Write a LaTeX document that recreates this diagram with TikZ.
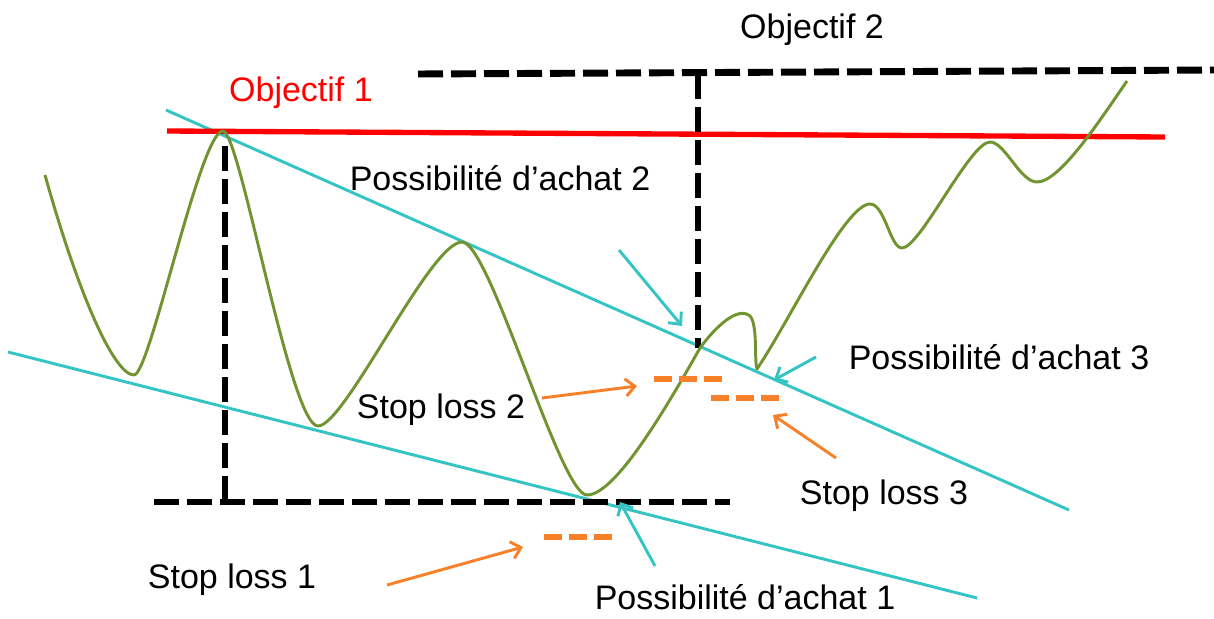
\documentclass[tikz,border=0pt]{standalone}
\usepackage{fontspec}
\setmainfont{Liberation Sans}
\usetikzlibrary{arrows.meta}
\definecolor{cyanline}{RGB}{52,196,196}
\definecolor{greenline}{RGB}{112,148,48}
\definecolor{orangeline}{RGB}{248,128,40}
\definecolor{redline}{RGB}{255,0,0}
\tikzset{
  lbl/.style={inner sep=0pt, font=\fontsize{25.5}{30}\selectfont},
  blackdash/.style={draw=black, line width=5.2pt, dash pattern=on 18.75pt off 6pt},
  orangedash/.style={draw=orangeline, line width=4.5pt, dash pattern=on 13.5pt off 5.25pt},
  trendline/.style={draw=cyanline, line width=2.2pt},
  cyanarrow/.style={draw=cyanline, line width=2.2pt, -{Straight Barb[length=7pt,width=13pt]}},
  orangearrow/.style={draw=orangeline, line width=2.2pt, -{Straight Barb[length=7pt,width=13pt]}},
  price/.style={draw=greenline, line width=2.2pt, line join=round},
}
\begin{document}
\begin{tikzpicture}[x=0.75pt,y=-0.75pt]
\useasboundingbox (0,0) rectangle (1214,618);

% coordinates
\coordinate (obj1L) at (167,131);
\coordinate (obj1R) at (1165,137);
\coordinate (obj2L) at (418,74);
\coordinate (obj2R) at (1214,70);
\coordinate (v2T) at (698,74);
\coordinate (v2B) at (698,348);
\coordinate (v1T) at (225,146);
\coordinate (v1B) at (225,505);
\coordinate (botL) at (154,502);
\coordinate (botR) at (730,502);
\coordinate (upA) at (166,110);
\coordinate (upB) at (1069,510);
\coordinate (loA) at (8,352);
\coordinate (loB) at (977,598);
\coordinate (sl1L) at (544,537);
\coordinate (sl1R) at (614,537);
\coordinate (sl2L) at (654,379);
\coordinate (sl2R) at (724,379);
\coordinate (sl3L) at (711,398);
\coordinate (sl3R) at (781,398);

% labels
\node[lbl] (tobj2) at (812,30) {Objectif 2};
\node[lbl, text=redline] (tobj1) at (301,93) {Objectif 1};
\node[lbl] (tpa2) at (500,178) {Possibilité d’achat 2};
\node[lbl] (tpa3) at (999,357) {Possibilité d’achat 3};
\node[lbl] (tsl2) at (441,410) {Stop loss 2};
\node[lbl] (tsl3) at (884,496) {Stop loss 3};
\node[lbl] (tsl1) at (232,580) {Stop loss 1};
\node[lbl] (tpa1) at (745,597) {Possibilité d’achat 1};

% trend lines
\draw[trendline] (upA) -- (upB);
\draw[trendline] (loA) -- (loB);

% objective lines
\draw[draw=redline, line width=4pt] (obj1L) -- (obj1R);
\draw[blackdash] (obj2L) -- (obj2R);
\draw[blackdash] (v2T) -- (v2B);
\draw[blackdash] (v1T) -- (v1B);
\draw[blackdash] (botL) -- (botR);

% price curve
\draw[price] (45,175) .. controls (80,300) and (115,375) .. (134,375)
  .. controls (150,375) and (200,131) .. (223,131)
  .. controls (240,131) and (290,426) .. (318,426)
  .. controls (345,426) and (430,242) .. (462,242)
  .. controls (490,242) and (560,495) .. (587,495)
  .. controls (615,495) and (665,410) .. (700,348)
  .. controls (716,326) and (738,306) .. (750,316)
  .. controls (758,325) and (754,360) .. (757,369)
  .. controls (790,320) and (845,204) .. (870,204)
  .. controls (885,204) and (890,248) .. (902,248)
  .. controls (920,248) and (970,142) .. (990,142)
  .. controls (1005,142) and (1020,182) .. (1037,182)
  .. controls (1060,182) and (1100,120) .. (1127,81);

% stop loss markers
\draw[orangedash] (sl1L) -- (sl1R);
\draw[orangedash] (sl2L) -- (sl2R);
\draw[orangedash] (sl3L) -- (sl3R);

% arrows
\coordinate (a2s) at (619,250);
\coordinate (a2e) at (682,326);
\coordinate (a3s) at (816,357);
\coordinate (a3e) at (774,380);
\coordinate (a1s) at (655,566);
\coordinate (a1e) at (620,502);
\coordinate (s1s) at (387,585);
\coordinate (s1e) at (523,547);
\coordinate (s2s) at (542,398);
\coordinate (s2e) at (637,386);
\coordinate (s3s) at (836,458);
\coordinate (s3e) at (773,415);
\draw[cyanarrow] (a2s) -- (a2e);
\draw[cyanarrow] (a3s) -- (a3e);
\draw[cyanarrow] (a1s) -- (a1e);
\draw[orangearrow] (s1s) -- (s1e);
\draw[orangearrow] (s2s) -- (s2e);
\draw[orangearrow] (s3s) -- (s3e);
\end{tikzpicture}
\end{document}
